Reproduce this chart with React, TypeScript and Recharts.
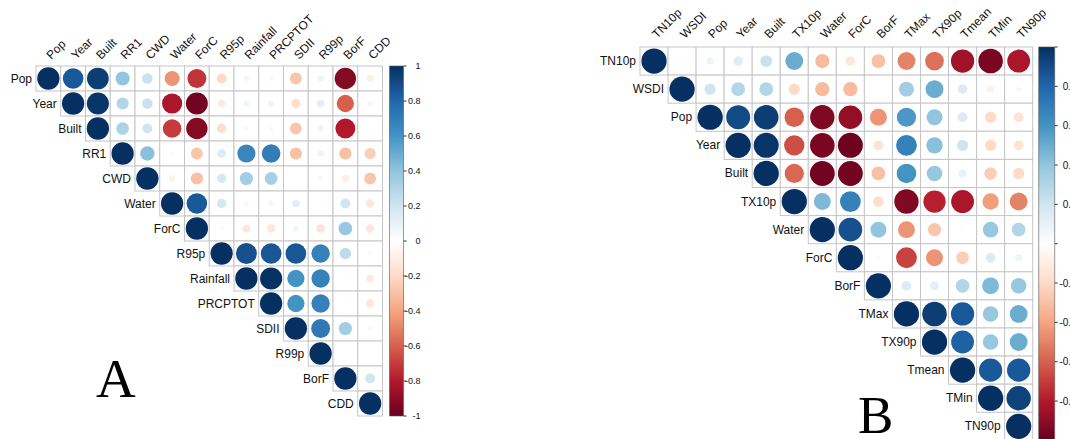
import React from "react";
import { ScatterChart, Scatter, XAxis, YAxis, ReferenceArea } from "recharts";

// panel A: variables and upper-triangle correlations (each row starts at the diagonal)
const varsA = ["Pop", "Year", "Built", "RR1", "CWD", "Water", "ForC", "R95p", "Rainfall", "PRCPTOT", "SDII", "R99p", "BorF", "CDD"];
const corrA = [
  [1, 0.85, 0.95, 0.4, 0.22, -0.45, -0.72, -0.2, 0.06, 0.05, -0.28, 0.08, -0.92, -0.1],
  [1, 0.98, 0.3, 0.22, -0.82, -0.97, -0.12, 0.07, 0.08, -0.18, 0.12, -0.6, 0.06],
  [1, 0.32, 0.2, -0.7, -0.92, -0.18, 0.05, 0.04, -0.28, 0.08, -0.8, -0.02],
  [1, 0.42, -0.04, -0.28, 0.15, 0.66, 0.7, -0.3, 0.08, -0.3, -0.25],
  [1, -0.08, -0.3, 0.18, 0.35, 0.33, -0.02, 0.05, -0.1, -0.28],
  [1, 0.85, 0.18, 0.05, 0.06, 0.12, 0.02, 0.2, -0.14],
  [1, 0.04, -0.13, -0.14, 0.07, -0.15, 0.38, -0.14],
  [1, 0.88, 0.86, 0.86, 0.68, 0.26, -0.04],
  [1, 0.99, 0.6, 0.68, 0.02, -0.12],
  [1, 0.6, 0.68, 0.02, -0.14],
  [1, 0.72, 0.35, 0.05],
  [1, 0.01, 0.01],
  [1, 0.2],
  [1],
];

// panel B
const varsB = ["TN10p", "WSDI", "Pop", "Year", "Built", "TX10p", "Water", "ForC", "BorF", "TMax", "TX90p", "Tmean", "TMin", "TN90p"];
const corrB = [
  [1, 0.02, 0.08, 0.14, 0.22, 0.5, -0.32, -0.14, -0.3, -0.5, -0.55, -0.85, -0.95, -0.82],
  [1, 0.2, 0.3, 0.3, -0.2, -0.32, -0.32, 0.01, 0.35, 0.5, 0.15, -0.08, 0.04],
  [1, 0.9, 0.95, -0.6, -0.93, -0.88, -0.45, 0.58, 0.4, 0.15, -0.2, -0.15],
  [1, 0.98, -0.65, -0.95, -0.98, -0.15, 0.68, 0.42, 0.2, -0.2, -0.15],
  [1, -0.58, -0.97, -0.97, -0.3, 0.6, 0.38, 0.1, -0.25, -0.2],
  [1, 0.45, 0.68, -0.18, -0.93, -0.78, -0.82, -0.42, -0.5],
  [1, 0.88, 0.4, -0.45, -0.28, -0.03, 0.38, 0.3],
  [1, 0.03, -0.68, -0.45, -0.25, 0.15, 0.08],
  [1, 0.15, 0.12, 0.3, 0.45, 0.38],
  [1, 0.95, 0.85, 0.38, 0.5],
  [1, 0.82, 0.38, 0.5],
  [1, 0.85, 0.85],
  [1, 0.93],
  [1],
];

const colorTicks = [-1, -0.8, -0.6, -0.4, -0.2, 0, 0.2, 0.4, 0.6, 0.8, 1];
// RdBu, from -1 to 1
const palette = ["#67001F", "#B2182B", "#D6604D", "#F4A582", "#FDDBC7", "#FFFFFF", "#D1E5F0", "#92C5DE", "#4393C3", "#2166AC", "#053061"];

const FONT = "'Liberation Sans', Arial, sans-serif";

function hexToRgb(h: string) {
  return [1, 3, 5].map((i) => parseInt(h.slice(i, i + 2), 16));
}

function colorFor(v: number) {
  const t = ((v + 1) / 2) * (palette.length - 1);
  const i = Math.min(Math.floor(t), palette.length - 2);
  const f = t - i;
  const a = hexToRgb(palette[i]);
  const b = hexToRgb(palette[i + 1]);
  const c = a.map((x, k) => Math.round(x + (b[k] - x) * f));
  return `rgb(${c[0]},${c[1]},${c[2]})`;
}

function buildCells(vars: string[], corr: number[][]) {
  const out: any[] = [];
  corr.forEach((row, i) => {
    row.forEach((v, k) => {
      out.push({ x: i + k + 1, y: i + 1, r: v, diag: k === 0, label: vars[i] });
    });
  });
  return out;
}

type PanelProps = {
  id: string;
  vars: string[];
  corr: number[][];
  left: number;
  top: number;
  cw: number;
  ch: number;
  gap: number;
  barW: number;
  rightW: number;
  labelSize: number;
  tickSize: number;
  tickEnd: number;
  colLift: number;
};

function CorrPanel(p: PanelProps) {
  const n = p.vars.length;
  const cells = buildCells(p.vars, p.corr);
  const xMax = n + 0.5 + (p.gap + p.barW) / p.cw;
  const barX1 = n + 0.5 + p.gap / p.cw;
  const bottom = 10;
  const width = p.left + n * p.cw + p.gap + p.barW + p.rightW;
  const height = p.top + n * p.ch + bottom;
  const xTicks = p.vars.map((_, i) => i + 1);
  // the two ends of the colour bar, so the bar axis has its own data
  const barEnds = [
    { x: (barX1 + xMax) / 2, c: -1 },
    { x: (barX1 + xMax) / 2, c: 1 },
  ];

  const renderCell = (props: any) => {
    const { cx, cy, payload } = props;
    const rad = 0.45 * Math.sqrt(Math.abs(payload.r)) * p.cw;
    return (
      <g>
        <rect x={cx - p.cw / 2} y={cy - p.ch / 2} width={p.cw} height={p.ch} fill="#fff" stroke="#C6C6C6" strokeWidth={1} />
        <circle cx={cx} cy={cy} r={rad} fill={colorFor(payload.r)} />
        {payload.diag && (
          <text x={cx - p.cw / 2 - 4} y={cy} textAnchor="end" dominantBaseline="central" fontSize={p.labelSize} fontFamily={FONT} fill="#111">
            {payload.label}
          </text>
        )}
      </g>
    );
  };

  const colTick = (props: any) => {
    const { x, y, payload } = props;
    const tx = x + 3;
    const ty = y - p.colLift;
    return (
      <text x={tx} y={ty} transform={`rotate(-45 ${tx} ${ty})`} textAnchor="start" fontSize={p.labelSize} fontFamily={FONT} fill="#111">
        {p.vars[payload.value - 1]}
      </text>
    );
  };

  const cbTick = (props: any) => {
    const { x, y, payload } = props;
    return (
      <text x={x + p.tickEnd} y={y} textAnchor="end" dominantBaseline="central" fontSize={p.tickSize} fontFamily={FONT} fill="#111">
        {payload.value}
      </text>
    );
  };

  return (
    <ScatterChart width={width} height={height} margin={{ top: 0, right: 0, bottom, left: 0 }}>
      <defs>
        <linearGradient id={p.id} x1="0" y1="0" x2="0" y2="1">
          {palette
            .slice()
            .reverse()
            .map((c, i) => (
              <stop key={i} offset={`${(i / (palette.length - 1)) * 100}%`} stopColor={c} />
            ))}
        </linearGradient>
      </defs>
      <XAxis
        xAxisId="x"
        type="number"
        dataKey="x"
        orientation="top"
        domain={[0.5, xMax]}
        ticks={xTicks}
        interval={0}
        height={p.top}
        axisLine={false}
        tickLine={false}
        tickSize={0}
        tickMargin={0}
        tick={colTick}
      />
      <YAxis yAxisId="row" type="number" dataKey="y" domain={[0.5, n + 0.5]} reversed width={p.left} tick={false} axisLine={false} tickLine={false} />
      <YAxis
        yAxisId="cb"
        orientation="right"
        type="number"
        dataKey="c"
        domain={[-1, 1]}
        ticks={colorTicks}
        interval={0}
        width={p.rightW}
        axisLine={false}
        tickLine={{ stroke: "#333" }}
        tickSize={3}
        tickMargin={0}
        tick={cbTick}
      />
      <Scatter data={cells} xAxisId="x" yAxisId="row" shape={renderCell} isAnimationActive={false} />
      <ReferenceArea
        xAxisId="x"
        yAxisId="cb"
        x1={barX1}
        x2={xMax}
        y1={-1}
        y2={1}
        fill={`url(#${p.id})`}
        fillOpacity={1}
        stroke="#555"
        strokeWidth={0.6}
        ifOverflow="visible"
      />
      <Scatter data={barEnds} xAxisId="x" yAxisId="cb" shape={() => <g />} isAnimationActive={false} />
    </ScatterChart>
  );
}

const serif = "'Liberation Serif', 'Times New Roman', serif";

export default function App() {
  return (
    <div style={{ position: "absolute", left: 0, top: 0, width: 1070, height: 439, overflow: "hidden", background: "#fff" }}>
      <div style={{ position: "absolute", left: 0, top: 0 }}>
        <CorrPanel id="cbA" vars={varsA} corr={corrA} left={36} top={66} cw={24.75} ch={25} gap={7} barW={14} rightW={34} labelSize={12} tickSize={9} tickEnd={14} colLift={6} />
      </div>
      <div style={{ position: "absolute", left: 560, top: 0 }}>
        <CorrPanel id="cbB" vars={varsB} corr={corrB} left={80} top={47} cw={28.05} ch={28.1} gap={6} barW={16} rightW={40} labelSize={12} tickSize={10} tickEnd={19} colLift={8} />
      </div>
      <div style={{ position: "absolute", left: 96, top: 359, fontFamily: serif, fontSize: 55, lineHeight: "40px", color: "#000" }}>A</div>
      <div style={{ position: "absolute", left: 858, top: 395, fontFamily: serif, fontSize: 53, lineHeight: "40px", color: "#000" }}>B</div>
    </div>
  );
}
